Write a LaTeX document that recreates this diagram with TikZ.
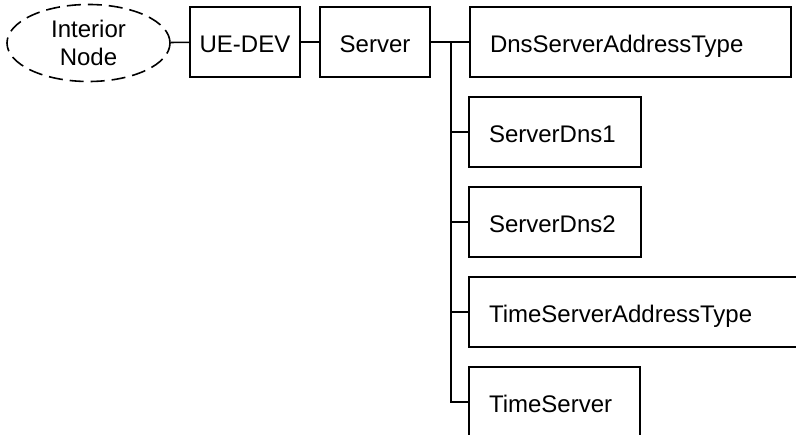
\documentclass[tikz,border=0pt]{standalone}
\usepackage{fontspec}
\setmainfont{Liberation Sans}
\usepackage{tikz}
\usetikzlibrary{shapes.geometric}

\begin{document}
\begin{tikzpicture}[
  x=1pt, y=-1pt,
  box/.style={rectangle, draw, line width=1.6pt, minimum width=110pt, minimum height=70pt, align=center, font=\fontsize{24}{28}\selectfont, inner sep=0pt, text height=22pt, text depth=0pt},
  leaf/.style={rectangle, draw, line width=1.6pt, minimum height=70pt, inner xsep=20pt, inner ysep=0pt, align=left, font=\fontsize{24}{28}\selectfont, text height=22pt, text depth=0pt},
  link/.style={line width=1.6pt}
]
\useasboundingbox (0,0) rectangle (796,435);
\clip (0,0) rectangle (796,435);

% Top row
\node[ellipse, draw, dashed, dash pattern=on 14pt off 7pt, line width=1.6pt, minimum width=163pt, minimum height=77pt, inner sep=0pt, align=center, font=\fontsize{24}{28}\selectfont] (interior) at (88.5,43) {Interior\\Node};
\node[box] (uedev) at (245,42) {UE-DEV};
\node[box] (server) at (375,42) {Server};

\draw[link] (interior) -- (uedev);
\draw[link] (uedev) -- (server);

% Children of Server
\node[leaf, text width=281pt] (dnstype) at (630.5,42) {DnsServerAddressType};
\node[leaf, text width=132pt] (dns1) at (555,132) {ServerDns1};
\node[leaf, text width=132pt] (dns2) at (555,222) {ServerDns2};
\node[leaf, text width=303pt] (timetype) at (640.5,312) {TimeServerAddressType};
\node[leaf, text width=131pt] (timesrv) at (554.5,402) {TimeServer};

\coordinate (trunk) at (451,42);
\draw[link] (server) -- (dnstype);
\draw[link] (trunk) |- (timesrv.west);
\draw[link] (trunk |- dns1.west) -- (dns1.west);
\draw[link] (trunk |- dns2.west) -- (dns2.west);
\draw[link] (trunk |- timetype.west) -- (timetype.west);

\end{tikzpicture}
\end{document}
